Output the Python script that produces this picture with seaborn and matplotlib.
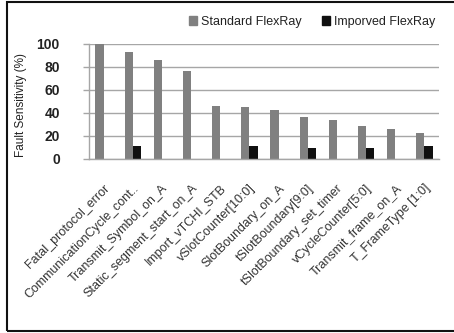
import matplotlib
matplotlib.use("Agg")
import matplotlib.pyplot as plt
from matplotlib.patches import Rectangle
import seaborn as sns
import pandas as pd

categories = [
    "Fatal_protocol_error",
    "CommunicationCycle_cont..",
    "Transmit_Symbol_on_A",
    "Static_segment_start_on_A",
    "Import_vTCHI_STB",
    "vSlotCounter[10:0]",
    "SlotBoundary_on_A",
    "tSlotBoundary[9:0]",
    "tSlotBoundary_set_timer",
    "vCycleCounter[5:0]",
    "Transmit_frame_on_A",
    "T_FrameType [1:0]",
]
standard = [100, 93, 86, 76, 46, 45, 42, 36, 34, 28, 26, 22]
improved = [0, 11, 0, 0, 0, 11, 0, 9, 0, 9, 0, 11]
series_names = ["Standard FlexRay", "Imporved FlexRay"]
y_ticks = [0, 20, 40, 60, 80, 100]

df = pd.DataFrame({
    "category": categories * 2,
    "value": standard + improved,
    "series": [series_names[0]] * len(categories) + [series_names[1]] * len(categories),
})

sns.set_style("white")
plt.rcParams["font.family"] = ["Liberation Sans", "DejaVu Sans"]

fig = plt.figure(figsize=(4.54, 3.33), dpi=100)
ax = fig.add_axes([89 / 454, 1 - 158.5 / 333, 350 / 454, 114.5 / 333])

palette = {series_names[0]: "#808080", series_names[1]: "#101010"}
sns.barplot(data=df, x="category", y="value", hue="series", palette=palette,
            width=0.56, saturation=1, linewidth=0, ax=ax, legend=False)

ax.set_ylim(0, 100)
ax.set_xlim(-0.5, len(categories) - 0.5)
ax.set_yticks(y_ticks)
ax.yaxis.grid(True, color="#a6a6a6", linewidth=1)
ax.set_axisbelow(True)
for side in ["top", "right"]:
    ax.spines[side].set_visible(False)
for side in ["left", "bottom"]:
    ax.spines[side].set_color("#a6a6a6")
    ax.spines[side].set_linewidth(1)

ax.tick_params(axis="y", length=4, width=1, color="#a6a6a6", pad=17, left=True)
ax.tick_params(axis="x", length=0, pad=17)
for lab in ax.get_yticklabels():
    lab.set_fontfamily(["Liberation Sans Narrow", "Liberation Sans"])
    lab.set_fontweight("bold")
    lab.set_fontsize(10)
    lab.set_color("#222222")

ax.set_xticks(range(len(categories)))
ax.set_xticklabels(categories, rotation=45, ha="right", rotation_mode="anchor",
                   fontsize=9, color="#333333")

ax.set_xlabel("")
ax.set_ylabel("Fault Sensitivity (%)", fontsize=8.5, color="#222222")
ax.yaxis.set_label_coords(-0.178, 0.47)

handles = [Rectangle((0, 0), 1, 1, color=palette[n]) for n in series_names]
fig.legend(handles, series_names, loc="center", bbox_to_anchor=(312 / 454, 1 - 22 / 333),
           ncol=2, frameon=False, fontsize=9, handlelength=0.7, handleheight=0.7,
           handletextpad=0.3, columnspacing=1.6, labelcolor="#222222")

fig.patches.append(Rectangle((7 / 454, 1 - 331 / 333), 1.0, 329 / 333,
                             transform=fig.transFigure, fill=False,
                             edgecolor="#111111", linewidth=1.5))

fig.savefig("out.png", dpi=100, facecolor="white")
